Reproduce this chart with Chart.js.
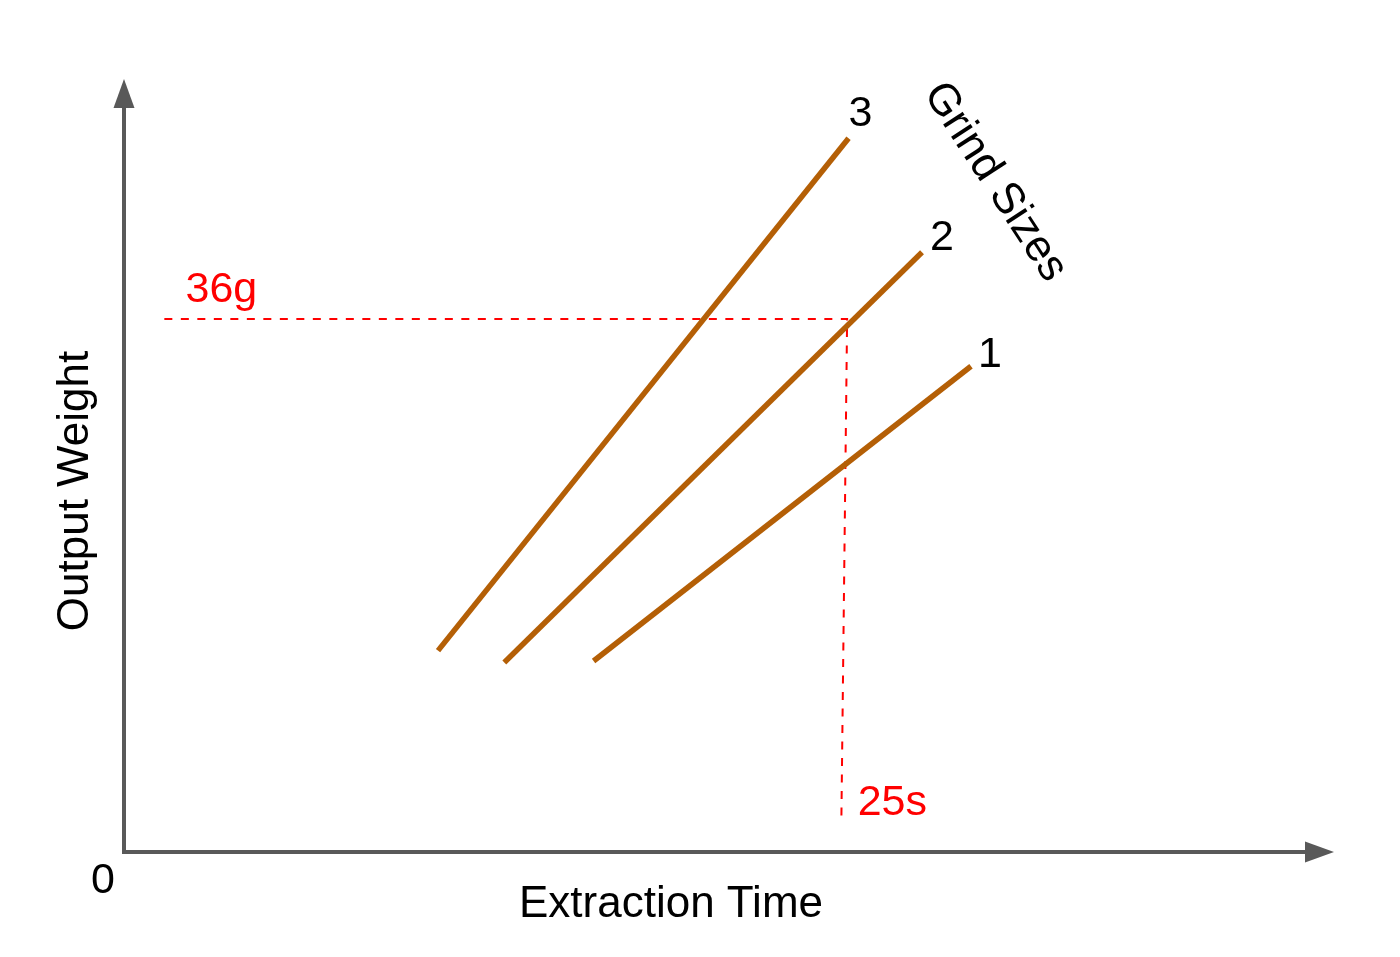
<!DOCTYPE html>
<html><head><meta charset="utf-8">
<script src="https://cdn.jsdelivr.net/npm/chart.js@4/dist/chart.umd.min.js"></script>
<style>html,body{margin:0;padding:0;background:#fff;overflow:hidden}#wrap{width:1400px;height:957px}</style>
</head><body><div id="wrap"><canvas id="c" width="1400" height="957"></canvas></div>
<script>
// ---- data (extraction time in s, output weight in g) ----
const grindSizes = ['1', '2', '3'];
const grind1Time = [16.3, 29.4];
const grind1Weight = [12.9, 32.8];
const grind2Time = [13.2, 27.7];
const grind2Weight = [12.8, 40.5];
const grind3Time = [10.9, 25.15];
const grind3Weight = [13.6, 48.2];
const guideTime = [1.4, 25.1, 24.9];
const guideWeight = [36, 36, 2.1];
const targetWeightLabel = '36g';
const targetTimeLabel = '25s';
const axisTimeMax = 42;
const axisWeightMax = 52.2;
const xTitle = 'Extraction Time';
const yTitle = 'Output Weight';
const seriesTitle = 'Grind Sizes';

const toPts = (xs, ys) => xs.map((v, i) => ({x: v, y: ys[i]}));
const brown = '#b45f06';
const axisColor = '#595959';
const FONT = '"Liberation Sans", Arial, sans-serif';

const lineDs = (xs, ys, label) => ({
  label, data: toPts(xs, ys), showLine: true, borderColor: brown, borderWidth: 5.5,
  pointRadius: 0, fill: false, borderCapStyle: 'butt'
});

const overlay = {
  id: 'overlay',
  afterDraw(chart) {
    const {ctx, scales: {x, y}} = chart;
    const x0 = x.getPixelForValue(0), y0 = y.getPixelForValue(0);
    const xEnd = x.getPixelForValue(axisTimeMax), yTop = y.getPixelForValue(axisWeightMax);
    ctx.save();
    // axes
    ctx.strokeStyle = axisColor; ctx.fillStyle = axisColor; ctx.lineWidth = 4; ctx.lineCap = 'butt';
    ctx.beginPath();
    ctx.moveTo(x0, y0 + 2); ctx.lineTo(x0, yTop + 28);
    ctx.moveTo(x0 - 2, y0); ctx.lineTo(xEnd - 28, y0);
    ctx.stroke();
    ctx.beginPath();
    ctx.moveTo(x0, yTop); ctx.lineTo(x0 - 10.5, yTop + 29); ctx.lineTo(x0 + 10.5, yTop + 29); ctx.closePath(); ctx.fill();
    ctx.beginPath();
    ctx.moveTo(xEnd, y0); ctx.lineTo(xEnd - 29, y0 - 10.5); ctx.lineTo(xEnd - 29, y0 + 10.5); ctx.closePath(); ctx.fill();

    // text
    ctx.textAlign = 'center'; ctx.textBaseline = 'alphabetic';
    ctx.fillStyle = '#000';
    ctx.font = '43px ' + FONT;
    ctx.fillText('0', x0 - 21, y0 + 41);
    ctx.font = '44px ' + FONT;
    ctx.fillText(xTitle, 671, 917);
    ctx.save(); ctx.translate(88, 491); ctx.rotate(-Math.PI / 2); ctx.fillText(yTitle, 0, 0); ctx.restore();

    // grind labels at line ends
    ctx.font = '43px ' + FONT;
    const ends = [[grind1Time, grind1Weight, 19, 1], [grind2Time, grind2Weight, 20, -2], [grind3Time, grind3Weight, 12, -12]];
    ends.forEach((e, i) => {
      const px = x.getPixelForValue(e[0][1]), py = y.getPixelForValue(e[1][1]);
      ctx.fillText(grindSizes[i], px + e[2], py + e[3]);
    });
    ctx.save(); ctx.translate(995, 182); ctx.rotate(57 * Math.PI / 180);
    ctx.textBaseline = 'middle'; ctx.font = '44px ' + FONT; ctx.fillText(seriesTitle, 0, 0); ctx.restore();

    // red annotations
    ctx.fillStyle = '#ff0000'; ctx.font = '43px ' + FONT;
    ctx.fillText(targetWeightLabel, x.getPixelForValue(guideTime[0]) + 57, y.getPixelForValue(guideWeight[0]) - 17);
    ctx.fillText(targetTimeLabel, x.getPixelForValue(guideTime[2]) + 51, y.getPixelForValue(guideWeight[2]) - 6);
    ctx.restore();
  }
};

new Chart(document.getElementById('c'), {
  type: 'scatter',
  data: {
    datasets: [
      lineDs(grind1Time, grind1Weight, 'Grind 1'),
      lineDs(grind2Time, grind2Weight, 'Grind 2'),
      lineDs(grind3Time, grind3Weight, 'Grind 3'),
      { label: 'guide', data: toPts(guideTime, guideWeight), showLine: true, borderColor: '#ff0000',
        borderWidth: 2, borderDash: [8, 8.5], pointRadius: 0, fill: false }
    ]
  },
  options: {
    responsive: false, animation: false, events: [],
    layout: { padding: { left: 124, right: 66, top: 79, bottom: 105 } },
    scales: {
      x: { type: 'linear', min: 0, max: axisTimeMax, display: false },
      y: { type: 'linear', min: 0, max: axisWeightMax, display: false }
    },
    plugins: { legend: { display: false }, tooltip: { enabled: false } }
  },
  plugins: [overlay]
});
</script></body></html>
